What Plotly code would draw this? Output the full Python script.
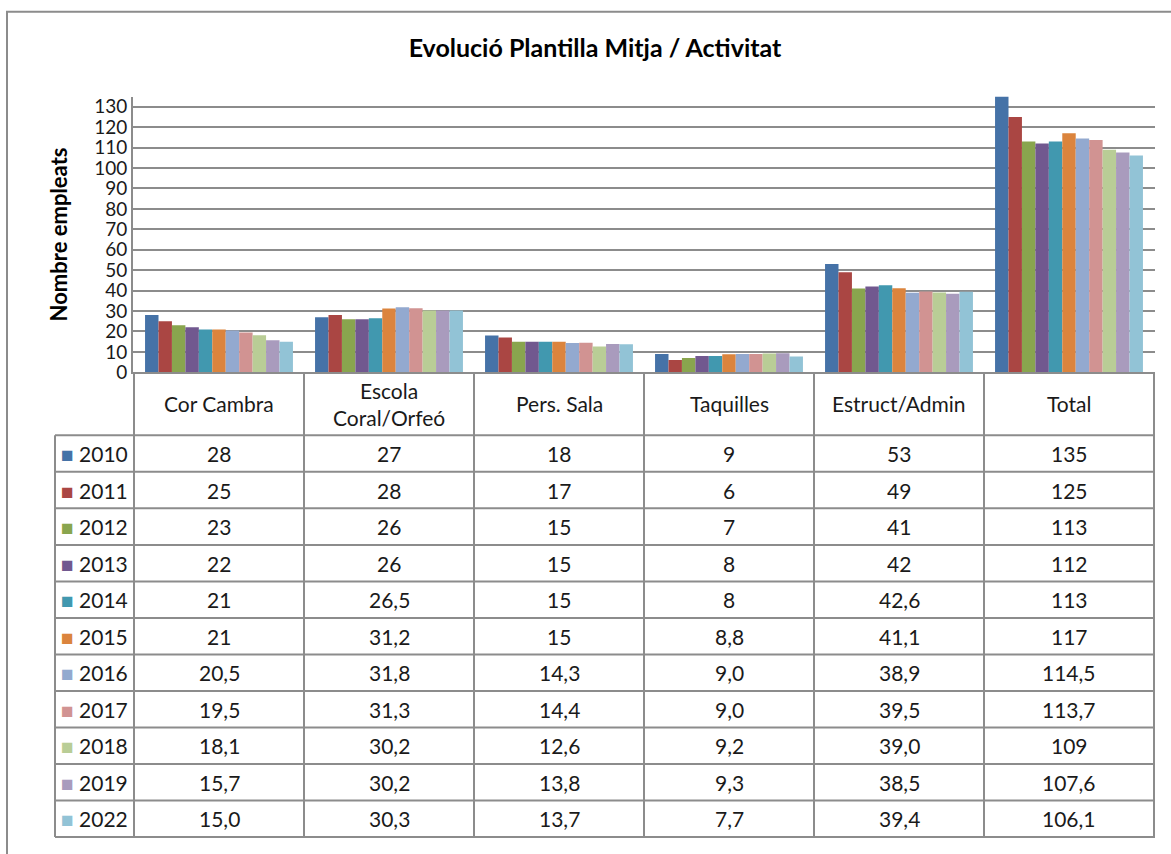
import plotly.graph_objects as go

# Data
categories = ["Cor Cambra", "Escola Coral/Orfeó", "Pers. Sala", "Taquilles", "Estruct/Admin", "Total"]
header_labels = ["Cor Cambra", "Escola<br>Coral/Orfeó", "Pers. Sala", "Taquilles", "Estruct/Admin", "Total"]
years = ["2010", "2011", "2012", "2013", "2014", "2015", "2016", "2017", "2018", "2019", "2022"]

v2010 = [28, 27, 18, 9, 53, 135]
v2011 = [25, 28, 17, 6, 49, 125]
v2012 = [23, 26, 15, 7, 41, 113]
v2013 = [22, 26, 15, 8, 42, 112]
v2014 = [21, 26.5, 15, 8, 42.6, 113]
v2015 = [21, 31.2, 15, 8.8, 41.1, 117]
v2016 = [20.5, 31.8, 14.3, 9.0, 38.9, 114.5]
v2017 = [19.5, 31.3, 14.4, 9.0, 39.5, 113.7]
v2018 = [18.1, 30.2, 12.6, 9.2, 39.0, 109]
v2019 = [15.7, 30.2, 13.8, 9.3, 38.5, 107.6]
v2022 = [15.0, 30.3, 13.7, 7.7, 39.4, 106.1]
series = [v2010, v2011, v2012, v2013, v2014, v2015, v2016, v2017, v2018, v2019, v2022]

# number format used in the table: "general" (2010-2015) or fixed one decimal (2016 on)
fixed_decimal = [False] * 6 + [True] * 5

colors = ["#4572A7", "#AA4643", "#89A54E", "#71588F", "#4198AF", "#DB843D",
          "#93A9CF", "#D19392", "#B9CD96", "#A99BBD", "#92C3D6"]

FONT = "Lato"
TXT = "#1a1a1a"
GRID = "#8c8c8c"
W, H = 1171, 854


def px_x(p):
    return p / W


def px_y(p):
    return 1 - p / H


def fmt(v, fixed):
    # comma as decimal separator; whole totals over 100 stay plain
    if float(v).is_integer() and (not fixed or v >= 100):
        return "%d" % v
    return ("%.1f" % v).replace(".", ",")


fig = go.Figure()

for yr, vals, col in zip(years, series, colors):
    fig.add_trace(go.Bar(x=categories, y=vals, name=yr, marker_color=col,
                         marker_line_width=0, showlegend=False))

# ---- data table under the chart (Excel style) ----
head_top, head_bot, table_bot = 376, 440, 848
row_h = (table_bot - head_bot) / len(years)
line = dict(color=GRID, width=2)

# header row labels
for lab, cat in zip(header_labels, categories):
    fig.add_annotation(x=cat, xref="x", y=px_y((head_top + head_bot) / 2), yref="paper",
                       text=lab, showarrow=False, yanchor="middle",
                       font=dict(family=FONT, size=21, color=TXT))

# body rows
for r, (yr, vals, col, fixed) in enumerate(zip(years, series, colors, fixed_decimal)):
    yc = px_y(head_bot + row_h * (r + 0.5))
    fig.add_annotation(x=px_x(59), xref="paper", y=yc, yref="paper", xanchor="left",
                       yanchor="middle", showarrow=False,
                       text="<span style='color:%s;font-size:21px'>■</span> %s" % (col, yr),
                       font=dict(family=FONT, size=21, color=TXT))
    for cat, v in zip(categories, vals):
        fig.add_annotation(x=cat, xref="x", y=yc, yref="paper", text=fmt(v, fixed),
                           showarrow=False, yanchor="middle",
                           font=dict(family=FONT, size=21, color=TXT))

# table grid lines
for k in range(len(years) + 1):
    yy = px_y(head_bot + row_h * k)
    fig.add_shape(type="line", xref="paper", yref="paper", x0=px_x(55), x1=px_x(1155),
                  y0=yy, y1=yy, line=line)
for i in range(len(categories) + 1):
    fig.add_shape(type="line", xref="x", yref="paper", x0=i - 0.5, x1=i - 0.5,
                  y0=px_y(head_top), y1=px_y(table_bot), line=line)
fig.add_shape(type="line", xref="paper", yref="paper", x0=px_x(55), x1=px_x(55),
              y0=px_y(head_bot), y1=px_y(table_bot), line=line)

# y axis title
fig.add_annotation(x=px_x(58), xref="paper", y=px_y(236), yref="paper", xanchor="center",
                   yanchor="middle", text="<b>Nombre empleats</b>", textangle=-90,
                   showarrow=False, font=dict(family=FONT, size=22, color="#000000"))

# outer frame
fig.add_shape(type="rect", xref="paper", yref="paper",
              x0=px_x(7), x1=px_x(1180), y0=px_y(870), y1=px_y(10),
              line=dict(color=GRID, width=2))

fig.update_layout(
    width=W, height=H,
    margin=dict(l=0, r=0, t=0, b=0),
    paper_bgcolor="white", plot_bgcolor="white",
    barmode="group", bargap=0.13, bargroupgap=0,
    title=dict(text="<b>Evolució Plantilla Mitja / Activitat</b>", x=595 / W, xanchor="center",
               y=px_y(48), yanchor="middle",
               font=dict(family=FONT, size=25, color="#000000")),
    xaxis=dict(domain=[px_x(133), px_x(1155)], showticklabels=False, ticks="",
               showline=True, linecolor=GRID, linewidth=2, showgrid=False),
    yaxis=dict(domain=[px_y(376), px_y(96)], range=[0, 135], dtick=10,
               showgrid=True, gridcolor=GRID, gridwidth=2,
               showline=True, linecolor=GRID, linewidth=2, zeroline=False,
               tickfont=dict(family=FONT, size=19, color=TXT), ticks=""),
)

# the page's default 8px body margin would shift the whole figure
fig.write_html("out.html", config={"displayModeBar": False},
               post_script="document.body.style.margin='0';")
